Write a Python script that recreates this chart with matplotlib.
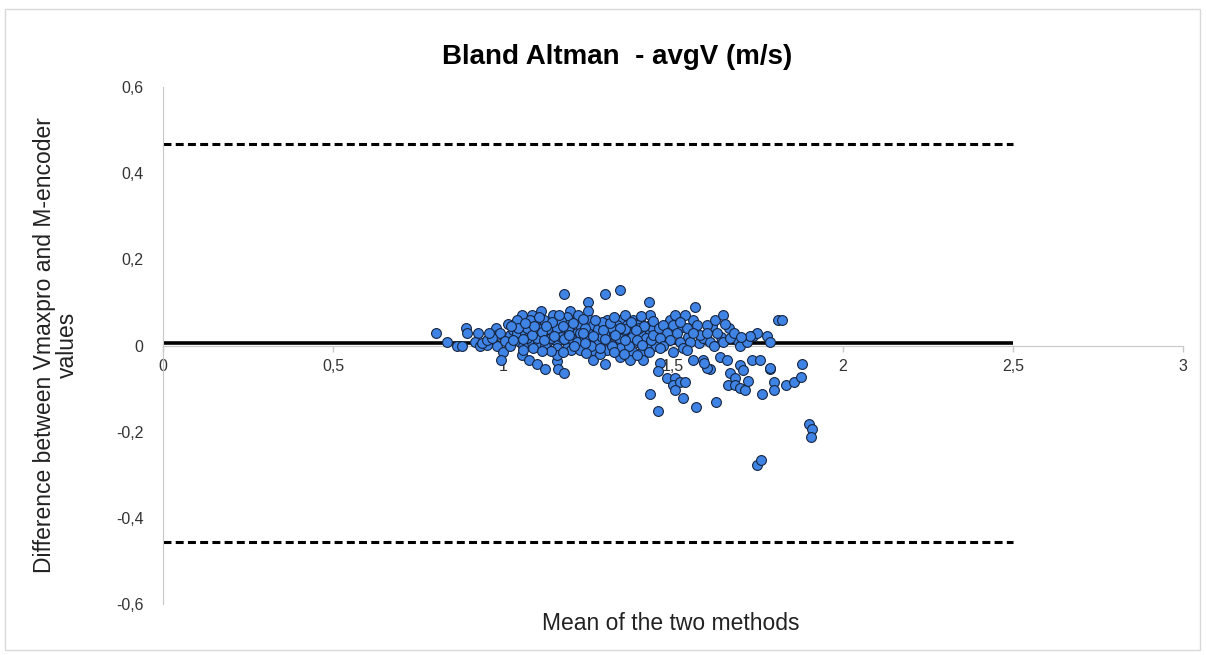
import numpy as np
import matplotlib
matplotlib.use("Agg")
import matplotlib.pyplot as plt
from matplotlib.patches import Rectangle

plt.rcParams['font.family'] = ['Liberation Sans', 'DejaVu Sans']

title = "Bland Altman  - avgV (m/s)"
x_label = "Mean of the two methods"
y_label = "Difference between Vmaxpro and M-encoder\nvalues"

x_ticks = [0, 0.5, 1, 1.5, 2, 2.5, 3]
x_tick_labels = ["0", "0,5", "1", "1,5", "2", "2,5", "3"]
y_ticks = [-0.6, -0.4, -0.2, 0, 0.2, 0.4, 0.6]
y_tick_labels = ["-0,6", "-0,4", "-0,2", "0", "0,2", "0,4", "0,6"]

mean_diff = 0.005
upper_loa = 0.468
lower_loa = -0.455
line_x_range = [0, 2.5]

left_tail = [
    (0.803, 0.029), (0.834, 0.008), (0.866, -0.002), (0.879, -0.002), (0.890, 0.040),
    (0.893, 0.029), (0.925, 0.029), (0.918, 0.009), (0.932, -0.002), (0.952, 0.002),
    (0.980, 0.040), (0.981, 0.025), (0.991, 0.029), (1.016, 0.050), (0.981, -0.002),
    (1.001, -0.014), (0.993, -0.033), (1.021, 0.025), (0.937, 0.005), (0.952, 0.013),
    (0.967, 0.017), (0.960, 0.030), (1.005, 0.010), (1.020, 0.000), (1.030, 0.035),
]

top_outliers = [
    (1.179, 0.120), (1.301, 0.120), (1.344, 0.128), (1.430, 0.100), (1.565, 0.089),
    (1.250, 0.100), (1.250, 0.079), (1.197, 0.079),
]

core_left = [
    (1.055, 0.070), (1.084, 0.070), (1.111, 0.079), (1.146, 0.070), (1.187, 0.067),
    (1.050, 0.048), (1.080, 0.050), (1.109, 0.050), (1.133, 0.048), (1.158, 0.048), (1.187, 0.048),
    (1.040, 0.029), (1.065, 0.029), (1.094, 0.029), (1.124, 0.029), (1.148, 0.032), (1.178, 0.029),
    (1.202, 0.029), (1.217, 0.029),
    (1.050, 0.009), (1.080, 0.009), (1.104, 0.005), (1.129, 0.009), (1.158, 0.009), (1.187, 0.009),
    (1.212, 0.009),
    (1.060, -0.002), (1.089, -0.006), (1.124, -0.002), (1.158, -0.006), (1.187, -0.006),
    (1.055, -0.022), (1.075, -0.033), (1.099, -0.043), (1.124, -0.054), (1.158, -0.037),
    (1.163, -0.054), (1.180, -0.064), (1.158, -0.022),
    (1.070, 0.040), (1.100, 0.040), (1.130, 0.038), (1.160, 0.040), (1.190, 0.038),
    (1.070, 0.018), (1.100, 0.018), (1.140, 0.018), (1.170, 0.020), (1.200, 0.018),
    (1.080, 0.060), (1.120, 0.060), (1.170, 0.058), (1.060, -0.010), (1.140, -0.012),
    (1.200, -0.010), (1.040, 0.060), (1.030, 0.012),
]

core_middle = [
    (1.217, 0.060), (1.256, 0.060), (1.305, 0.060), (1.344, 0.060), (1.383, 0.060),
    (1.432, 0.071), (1.403, 0.056),
    (1.227, 0.048), (1.266, 0.048), (1.305, 0.048), (1.334, 0.048), (1.364, 0.048),
    (1.398, 0.048), (1.432, 0.048),
    (1.227, 0.029), (1.251, 0.029), (1.276, 0.029), (1.300, 0.029), (1.325, 0.029),
    (1.354, 0.029), (1.379, 0.029), (1.403, 0.029), (1.432, 0.029),
    (1.217, 0.009), (1.246, 0.009), (1.276, 0.009), (1.305, 0.009), (1.334, 0.009),
    (1.364, 0.009), (1.393, 0.009), (1.423, 0.009),
    (1.227, -0.010), (1.266, -0.010), (1.305, -0.010), (1.344, -0.006), (1.383, -0.014),
    (1.408, -0.014),
    (1.266, -0.033), (1.300, -0.043), (1.344, -0.026), (1.374, -0.033), (1.413, -0.033),
    (1.240, 0.040), (1.280, 0.038), (1.320, 0.040), (1.360, 0.038), (1.400, 0.040),
    (1.440, 0.038), (1.240, 0.018), (1.290, 0.020), (1.340, 0.018), (1.380, 0.020),
    (1.420, 0.018), (1.260, 0.000), (1.320, -0.002), (1.370, 0.000), (1.420, -0.002),
    (1.290, 0.055), (1.360, 0.070), (1.220, 0.070), (1.450, 0.020), (1.450, 0.000),
    (1.440, 0.058),
]

core_fill = [
    (1.045, 0.040), (1.085, 0.024), (1.115, 0.032), (1.145, 0.055), (1.175, 0.045),
    (1.205, 0.052), (1.235, 0.030), (1.265, 0.022), (1.295, 0.035), (1.315, 0.052),
    (1.345, 0.040), (1.375, 0.055), (1.395, 0.012), (1.415, 0.045), (1.435, 0.012),
    (1.060, 0.015), (1.090, 0.045), (1.120, 0.012), (1.150, 0.022), (1.180, 0.015),
    (1.210, 0.000), (1.240, 0.005), (1.270, 0.060), (1.300, 0.015), (1.330, 0.025),
    (1.360, 0.012), (1.390, 0.035), (1.410, 0.002), (1.440, 0.025), (1.460, 0.040),
    (1.115, -0.012), (1.175, -0.015), (1.245, -0.018), (1.285, -0.020), (1.325, -0.015),
    (1.355, -0.020), (1.395, -0.022), (1.430, -0.015), (1.480, 0.010), (1.495, 0.038),
    (1.520, 0.040), (1.545, 0.020), (1.575, 0.005), (1.600, 0.012), (1.615, 0.045),
    (1.640, 0.020), (1.665, 0.040), (1.690, 0.010), (1.560, 0.060), (1.490, 0.060),
    (1.105, 0.065), (1.165, 0.070), (1.235, 0.062), (1.325, 0.065), (1.405, 0.068),
    (1.285, -0.005), (1.195, 0.025), (1.125, 0.045), (1.065, 0.052), (1.025, 0.045),
]

core_right = [
    (1.506, 0.071), (1.535, 0.071), (1.570, 0.048), (1.599, 0.048), (1.624, 0.060),
    (1.648, 0.071), (1.653, 0.050), (1.472, 0.048), (1.501, 0.048), (1.481, 0.029),
    (1.511, 0.029), (1.540, 0.040), (1.462, 0.017), (1.491, 0.013), (1.521, 0.009),
    (1.550, 0.009), (1.589, 0.017), (1.609, 0.009), (1.629, 0.029), (1.648, 0.009),
    (1.668, 0.017), (1.697, -0.002), (1.717, 0.009), (1.736, 0.021), (1.746, 0.029),
    (1.776, 0.021), (1.785, 0.009), (1.810, 0.060), (1.820, 0.060), (1.726, 0.021),
    (1.470, 0.000), (1.530, -0.005), (1.580, 0.025), (1.620, 0.000), (1.520, 0.055),
    (1.560, 0.030), (1.600, 0.030), (1.680, 0.030), (1.700, 0.020),
]

lower_spread = [
    (1.462, -0.006), (1.501, -0.014), (1.540, -0.010), (1.560, -0.033), (1.589, -0.033),
    (1.609, -0.054), (1.638, -0.026), (1.658, -0.033), (1.668, -0.064), (1.682, -0.076),
    (1.697, -0.045), (1.707, -0.056), (1.731, -0.033), (1.756, -0.033), (1.785, -0.054),
    (1.879, -0.043), (1.599, -0.053), (1.590, -0.040),
    (1.462, -0.041), (1.457, -0.060), (1.481, -0.076), (1.506, -0.076), (1.501, -0.091),
    (1.521, -0.084), (1.535, -0.084), (1.506, -0.103), (1.530, -0.122), (1.432, -0.112),
    (1.457, -0.151), (1.568, -0.142), (1.625, -0.131),
    (1.663, -0.091), (1.682, -0.091), (1.697, -0.099), (1.712, -0.103), (1.722, -0.083),
    (1.763, -0.112), (1.797, -0.084), (1.797, -0.103), (1.831, -0.091), (1.856, -0.085),
    (1.875, -0.074), (1.785, -0.053),
]

far_outliers = [
    (1.746, -0.277), (1.758, -0.265), (1.901, -0.183), (1.908, -0.193), (1.906, -0.213),
]

points = np.array(left_tail + top_outliers + core_left + core_middle + core_fill
                  + core_right + lower_spread + far_outliers)
mean_of_methods = points[:, 0]
difference = points[:, 1]

W, H = 1206, 655
fig = plt.figure(figsize=(W / 100, H / 100), dpi=100)
fig.patch.set_facecolor('white')

ax = fig.add_axes([163 / W, 1 - 604 / H, (1183 - 163) / W, (604 - 87) / H])
ax.set_xlim(0, 3)
ax.set_ylim(-0.6, 0.6)

ax.plot(line_x_range, [upper_loa, upper_loa], color='black', lw=2.2,
        dashes=(2.6, 1.4), zorder=2)
ax.plot(line_x_range, [lower_loa, lower_loa], color='black', lw=2.2,
        dashes=(2.6, 1.4), zorder=2)
ax.plot(line_x_range, [mean_diff, mean_diff], color='black', lw=2.6, zorder=2,
        solid_capstyle='butt')

ax.scatter(mean_of_methods, difference, s=50, facecolor='#3f84e5',
           edgecolor='#16243f', linewidth=0.8, zorder=3)

for side in ['top', 'right']:
    ax.spines[side].set_visible(False)
ax.spines['bottom'].set_position(('data', 0))
ax.spines['bottom'].set_color('#c8c8c8')
ax.spines['left'].set_color('#c8c8c8')
ax.spines['bottom'].set_zorder(1)

ax.set_xticks(x_ticks)
ax.set_xticklabels(x_tick_labels)
ax.set_yticks(y_ticks)
ax.set_yticklabels(y_tick_labels)
ax.tick_params(axis='x', direction='out', length=4, width=1, color='#c8c8c8',
               labelsize=11.5, labelcolor='#333333', pad=6)
ax.tick_params(axis='y', length=0, labelsize=11.5, labelcolor='#333333', pad=14)

fig.text(617 / W, 1 - 57 / H, title, ha='center', va='center',
         fontsize=20, fontweight='bold', color='black')
fig.text(671 / W, 1 - 623 / H, x_label, ha='center', va='center',
         fontsize=16.5, color='#222222')
fig.text(56 / W, 1 - 345 / H, y_label, ha='center', va='center', rotation=90,
         fontsize=16.5, color='#222222', multialignment='center', linespacing=1.0)

fig.add_artist(Rectangle((5 / W, 1 - 650 / H), 1195 / W, 641 / H,
                         transform=fig.transFigure, fill=False,
                         edgecolor='#d9d9d9', linewidth=1))

fig.savefig('out.png', dpi=100, facecolor='white')
